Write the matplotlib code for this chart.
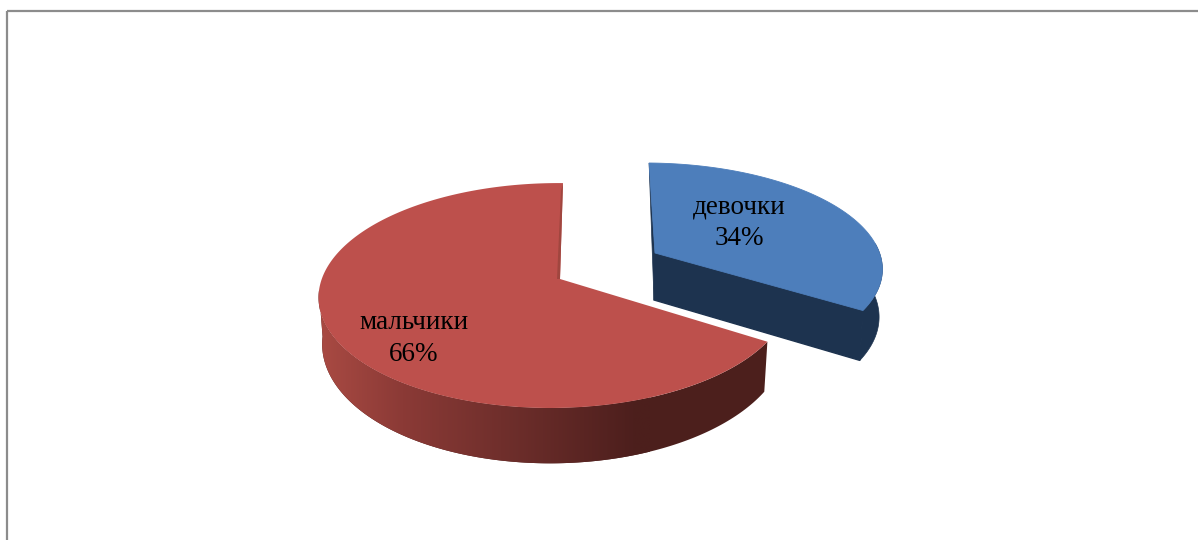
import numpy as np
import matplotlib
matplotlib.use("Agg")
import matplotlib.pyplot as plt
from matplotlib.colors import LinearSegmentedColormap
from matplotlib.patches import Polygon, Rectangle

# data
labels = ["девочки", "мальчики"]
shares = [34, 66]

# style
TOP_COLORS = ["#4d7ebb", "#bd504c"]
NAVY = "#1d334f"
SLIVER = "#a0463f"
WALL_CMAP = LinearSegmentedColormap.from_list(
    "wall", [(0, "#a94a43"), (0.25, "#8b3a36"), (0.55, "#702f2c"), (0.95, "#4d1f1d"), (1, "#4c1f1c")]
)

# projection of each slice: apex, scale, perspective, bottom disc
GEOM = [
    dict(apex=(655, 253), R=229, S=101.7, k=0.13, m=0.02, sh=-6.7, base=(-1, 47), bx=0.99, by=1.05),
    dict(apex=(560, 279), R=233, S=110, k=0.147, m=0.022, sh=3.4, base=(0, 45), bx=0.985, by=1.08),
]
LABEL_POS = [(739, 222.5), (414, 338.5)]


def project(g, theta, r=1.0, bottom=False):
    u, v = r * np.sin(theta), r * np.cos(theta)
    w = 1 + g["k"] * v + g["m"] * u
    dx = (g["R"] * u + g["sh"] * v) / w
    dy = -g["S"] * v / w
    if bottom:
        return np.column_stack([g["apex"][0] + g["base"][0] + g["bx"] * dx,
                                g["apex"][1] + g["base"][1] + g["by"] * dy])
    return np.column_stack([g["apex"][0] + dx, g["apex"][1] + dy])


fig = plt.figure(figsize=(11.98, 5.40), dpi=100)
ax = fig.add_axes([0, 0, 1, 1])
ax.axis("off")

ax.add_patch(Rectangle((7, 11), 1400, 800, fill=False, ec="#8c8c8c", lw=1.6))

edges = np.deg2rad(np.cumsum([0] + shares) * 3.6)

# blue slice
g = GEOM[0]
t = np.linspace(edges[0], edges[1], 150)
top = project(g, t)
bot = project(g, t, bottom=True)
side = np.cos(t) < 0.1
apex = np.array([g["apex"]], float)
apex_bot = apex + g["base"]
ax.add_patch(Polygon(np.vstack([top[side], bot[side][::-1]]), fc=NAVY, ec=NAVY, lw=0.5, zorder=2))
ax.add_patch(Polygon(np.vstack([apex, top[-1:], bot[-1:], apex_bot]), fc=NAVY, ec=NAVY, lw=1, zorder=2))
ax.add_patch(Polygon(np.vstack([top[:1], apex, apex_bot]), fc=NAVY, ec=NAVY, lw=0.5, zorder=2))
ax.add_patch(Polygon(np.vstack([apex, top]), fc=TOP_COLORS[0], ec=TOP_COLORS[0], lw=0.6, zorder=3))

# red slice, wall is a gradient clipped to the outline
g = GEOM[1]
t = np.linspace(edges[1], edges[2], 400)
top = project(g, t)
bot = project(g, t, bottom=True)
front = np.cos(t) < -0.1
wall = Polygon(np.vstack([top[front], bot[front][::-1]]), fc="none", ec="none", zorder=2)
ax.add_patch(wall)
grad = ax.imshow(np.linspace(0, 1, 256).reshape(1, -1), cmap=WALL_CMAP, aspect="auto",
                 extent=(320, 650, 470, 290), zorder=2, interpolation="bilinear")
grad.set_clip_path(wall)
# right part of the wall stays flat dark
dark = Polygon(np.vstack([top[front], bot[front][::-1]]), fc=WALL_CMAP(1.0), ec="none", zorder=1.5)
ax.add_patch(dark)
apex = np.array([g["apex"]], float)
ax.add_patch(Polygon(np.vstack([apex, top]), fc=TOP_COLORS[1], ec="none", zorder=3))
# thin cut wall by the top corner
ax.add_patch(Polygon(np.vstack([top[-1:], apex, apex + (-3, 0), top[-1:] + (-2, 8)]),
                     fc=SLIVER, ec="none", zorder=4))

for name, share, (x, y) in zip(labels, shares, LABEL_POS):
    ax.text(x, y, f"{name}\n{share}%", ha="center", va="center", color="black",
            family="Liberation Serif", fontsize=19.5, linespacing=1.32, zorder=5)

ax.set_xlim(0, 1198)
ax.set_ylim(540, 0)

fig.savefig("out.png", dpi=100)
